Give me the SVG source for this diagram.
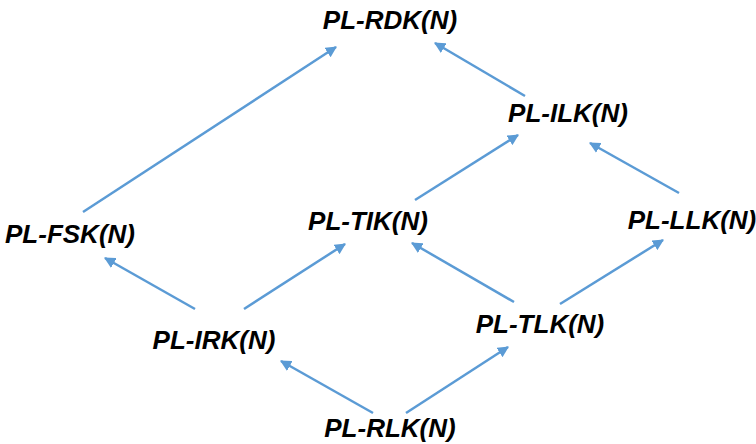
<svg xmlns="http://www.w3.org/2000/svg" width="756" height="444" viewBox="0 0 756 444">
<style>
text{font-family:"Liberation Sans",Arial,sans-serif;font-size:26px;font-weight:bold;font-style:italic;fill:#000;text-anchor:middle}
.e{stroke:#5B9BD5;stroke-width:2.5;fill:none;marker-end:url(#ah)}
</style>
<defs>
<marker id="ah" viewBox="0 0 10 10" refX="9" refY="5" markerWidth="4.5" markerHeight="4.5" orient="auto" markerUnits="strokeWidth">
<path d="M0,0 L10,5 L0,10 z" fill="#5B9BD5"/>
</marker>
</defs>
<rect width="756" height="444" fill="#fff"/>
<g id="connectors">
<line class="e" x1="83" y1="212" x2="336" y2="47"/>
<line class="e" x1="525" y1="96" x2="435" y2="43"/>
<line class="e" x1="415" y1="200" x2="518" y2="135"/>
<line class="e" x1="679" y1="193" x2="590" y2="143"/>
<line class="e" x1="195" y1="309" x2="105" y2="258"/>
<line class="e" x1="244" y1="309" x2="345" y2="244"/>
<line class="e" x1="514" y1="302" x2="412" y2="243"/>
<line class="e" x1="560" y1="304" x2="663" y2="240"/>
<line class="e" x1="373" y1="413" x2="281" y2="361"/>
<line class="e" x1="406" y1="413" x2="508" y2="347"/>
</g>
<g id="rdk"><text x="390" y="29">PL-RDK(N)</text></g>
<g id="ilk"><text x="568" y="122">PL-ILK(N)</text></g>
<g id="tik"><text x="368" y="230">PL-TIK(N)</text></g>
<g id="llk"><text x="692" y="229">PL-LLK(N)</text></g>
<g id="fsk"><text x="70" y="243">PL-FSK(N)</text></g>
<g id="irk"><text x="214" y="349">PL-IRK(N)</text></g>
<g id="tlk"><text x="540" y="333">PL-TLK(N)</text></g>
<g id="rlk"><text x="390" y="437">PL-RLK(N)</text></g>
</svg>
